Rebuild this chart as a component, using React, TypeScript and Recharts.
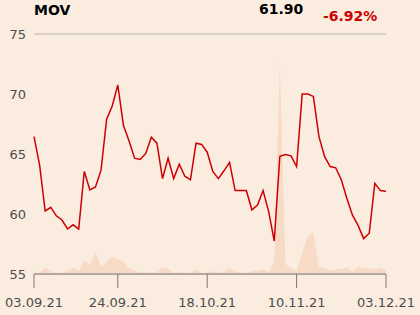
import React from 'react';
import { ComposedChart, Area, Line, XAxis, YAxis, CartesianGrid } from 'recharts';

// daily closes, 03.09.21 .. 03.12.21
const closes = [
  66.45, 64.1, 60.25, 60.55, 59.85, 59.5, 58.75, 59.1, 58.75, 63.55,
  62.0, 62.25, 63.65, 67.9, 69.0, 70.75, 67.4, 66.1, 64.65, 64.55,
  65.05, 66.4, 65.9, 62.95, 64.65, 62.95, 64.15, 63.15, 62.85, 65.9,
  65.8, 65.15, 63.55, 62.95, 63.6, 64.3, 61.95, 61.95, 61.95, 60.35,
  60.75, 61.95, 60.2, 57.75, 64.8, 64.95, 64.85, 63.95, 70.0, 70.0,
  69.8, 66.45, 64.8, 63.95, 63.85, 62.85, 61.3, 59.9, 59.05, 57.95,
  58.4, 62.55, 61.95, 61.9,
];

// volume, thousands of shares
const volumes = [
  14, 5, 40, 20, 4, 9, 18, 38, 20, 80,
  54, 134, 44, 74, 104, 88, 78, 34, 20, 10,
  10, 10, 10, 36, 34, 6, 12, 9, 6, 30,
  4, 10, 16, 6, 18, 34, 14, 12, 4, 20,
  20, 28, 14, 72, 1266, 60, 34, 18, 126, 228,
  246, 40, 40, 20, 30, 30, 40, 14, 44, 38,
  34, 28, 38, 18,
];

const tickIndex = [0, 15, 31, 47, 63];
const tickLabels = ['03.09.21', '24.09.21', '18.10.21', '10.11.21', '03.12.21'];
const priceTicks = [55, 60, 65, 70, 75];

const symbol = 'MOV';
const lastPrice = '61.90';
const change = '-6.92%';

const data = closes.map((c, i) => ({ i, close: c, volume: volumes[i] }));

const BG = '#fbece0';
const FONT = 'DejaVu Sans, sans-serif';

export default function App() {
  return (
    <div style={{ position: 'absolute', left: 0, top: 0, width: 420, height: 315, background: BG, fontFamily: FONT }}>
      <div style={{ position: 'absolute', left: 34, top: 2, fontSize: 14, fontWeight: 'bold', color: '#000' }}>{symbol}</div>
      <div style={{ position: 'absolute', left: 259, top: 1, fontSize: 14, fontWeight: 'bold', color: '#000' }}>{lastPrice}</div>
      <div style={{ position: 'absolute', left: 323, top: 8, fontSize: 14, fontWeight: 'bold', color: '#cc0000' }}>{change}</div>
      <ComposedChart width={420} height={315} data={data} margin={{ top: 34, right: 34, bottom: 0, left: 4 }}>
        <CartesianGrid horizontal vertical={false} stroke="#b7b3ae" />
        <XAxis
          dataKey="i"
          type="number"
          domain={[0, 63]}
          ticks={tickIndex}
          tickFormatter={(v) => tickLabels[tickIndex.indexOf(v)]}
          height={41}
          tickSize={14}
          tickMargin={10}
          stroke="#7a7a7a"
          tick={{ fill: '#4d4d4d', fontSize: 13, fontFamily: FONT }}
        />
        <YAxis
          yAxisId="price"
          domain={[55, 75]}
          ticks={priceTicks}
          width={30}
          axisLine={false}
          tickLine={false}
          tick={{ fill: '#4d4d4d', fontSize: 13, fontFamily: FONT }}
        />
        <YAxis yAxisId="vol" hide domain={[0, 1440]} />
        <Area
          yAxisId="vol"
          dataKey="volume"
          type="linear"
          stroke="none"
          fill="#f7dbc6"
          fillOpacity={1}
          isAnimationActive={false}
        />
        <Line
          yAxisId="price"
          dataKey="close"
          type="linear"
          stroke="#cc0000"
          strokeWidth={1.5}
          dot={false}
          isAnimationActive={false}
        />
      </ComposedChart>
    </div>
  );
}
